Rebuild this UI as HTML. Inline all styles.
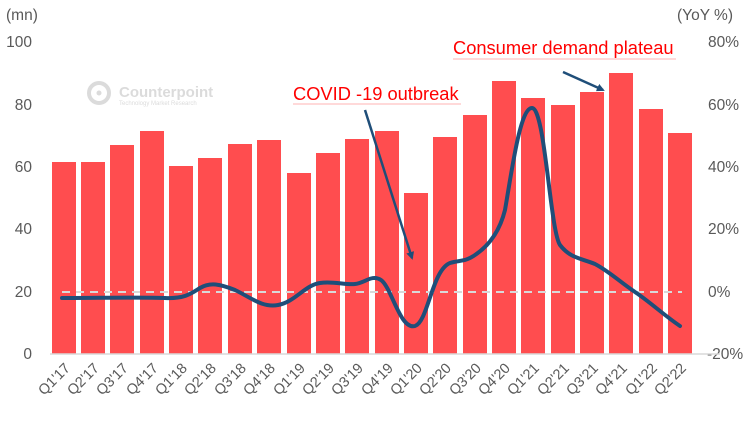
<!DOCTYPE html>
<html><head><meta charset="utf-8"><style>body{margin:0;background:#fff}svg{display:block}</style></head><body>
<svg width="750" height="421" viewBox="0 0 750 421" font-family="Liberation Sans, Arial, sans-serif">
<defs><marker id="ah" markerWidth="8" markerHeight="8" refX="6" refY="4" orient="auto" markerUnits="userSpaceOnUse" viewBox="0 0 8 8"><path d="M0,0 L8,4 L0,8 z" fill="#1f4e79"/></marker></defs>
<g fill="#595959" font-size="15.5">
<text x="6" y="20">(mn)</text>
<text x="677" y="20">(YoY %)</text>
<g text-anchor="end">
<text x="32" y="47">100</text><text x="32" y="110">80</text><text x="32" y="172">60</text><text x="32" y="234">40</text><text x="32" y="297">20</text><text x="32" y="359">0</text>
</g>
<text x="708" y="47">80%</text><text x="708" y="110">60%</text><text x="708" y="172">40%</text><text x="708" y="234">20%</text><text x="708" y="297">0%</text><text x="707" y="359">-20%</text>
</g>
<g opacity="0.35">
<circle cx="99" cy="93" r="10" fill="none" stroke="#999" stroke-width="4"/>
<circle cx="99" cy="93" r="2.5" fill="#999"/>
<text x="119" y="97" font-size="15" font-weight="bold" fill="#999">Counterpoint</text>
<text x="119" y="105" font-size="6" fill="#999">Technology Market Research</text>
</g>
<g fill="#ff4d4f">
<rect x="52" y="162" width="24" height="192"/>
<rect x="81" y="162" width="24" height="192"/>
<rect x="110" y="145" width="24" height="209"/>
<rect x="140" y="131" width="24" height="223"/>
<rect x="169" y="166" width="24" height="188"/>
<rect x="198" y="158" width="24" height="196"/>
<rect x="228" y="144" width="24" height="210"/>
<rect x="257" y="140" width="24" height="214"/>
<rect x="287" y="173" width="24" height="181"/>
<rect x="316" y="153" width="24" height="201"/>
<rect x="345" y="139" width="24" height="215"/>
<rect x="375" y="131" width="24" height="223"/>
<rect x="404" y="193" width="24" height="161"/>
<rect x="433" y="137" width="24" height="217"/>
<rect x="463" y="115" width="24" height="239"/>
<rect x="492" y="81" width="24" height="273"/>
<rect x="521" y="98" width="24" height="256"/>
<rect x="551" y="105" width="24" height="249"/>
<rect x="580" y="92" width="24" height="262"/>
<rect x="609" y="73" width="24" height="281"/>
<rect x="639" y="109" width="24" height="245"/>
<rect x="668" y="133" width="24" height="221"/>
</g>
<line x1="50" y1="354" x2="720" y2="354" stroke="#d9d9d9" stroke-width="1.5"/>
<line x1="62" y1="292" x2="682" y2="292" stroke="#d9d9d9" stroke-width="2" stroke-dasharray="8,6"/>
<path d="M62,298 C100,298 140,297 165,298 C185,299 192,293 200,288 C210,282 220,284 235,290 C250,297 262,308 278,305 C295,302 305,285 320,283 C333,281 345,285 355,284 C365,283 372,274 381,280 C392,288 400,330 415,326 C428,322 432,270 450,263 C460,260 465,262 475,255 C490,245 500,230 505,210 C512,170 520,108 532,108 C545,108 550,230 560,245 C570,258 580,258 595,264 C610,272 620,282 635,292 C650,302 665,316 680,326" fill="none" stroke="#1f4e79" stroke-width="4" stroke-linecap="round"/>
<g font-size="18.3" fill="#ff0000">
<text x="293" y="100">COVID -19 outbreak</text>
<text x="453" y="54">Consumer demand plateau</text>
</g>
<line x1="293" y1="104" x2="461" y2="104" stroke="#ffb3b3" stroke-width="1"/>
<line x1="453" y1="59" x2="676" y2="59" stroke="#ffb3b3" stroke-width="1"/>
<line x1="365" y1="110" x2="412" y2="258" stroke="#1f4e79" stroke-width="2.5" marker-end="url(#ah)"/>
<line x1="563" y1="72" x2="603" y2="90" stroke="#1f4e79" stroke-width="2.5" marker-end="url(#ah)"/>
<g fill="#595959" font-size="14.5" text-anchor="end">
<text transform="translate(71,369) rotate(-45)">Q1'17</text>
<text transform="translate(100,369) rotate(-45)">Q2'17</text>
<text transform="translate(129,369) rotate(-45)">Q3'17</text>
<text transform="translate(159,369) rotate(-45)">Q4'17</text>
<text transform="translate(188,369) rotate(-45)">Q1'18</text>
<text transform="translate(217,369) rotate(-45)">Q2'18</text>
<text transform="translate(247,369) rotate(-45)">Q3'18</text>
<text transform="translate(276,369) rotate(-45)">Q4'18</text>
<text transform="translate(306,369) rotate(-45)">Q1'19</text>
<text transform="translate(335,369) rotate(-45)">Q2'19</text>
<text transform="translate(364,369) rotate(-45)">Q3'19</text>
<text transform="translate(394,369) rotate(-45)">Q4'19</text>
<text transform="translate(423,369) rotate(-45)">Q1'20</text>
<text transform="translate(452,369) rotate(-45)">Q2'20</text>
<text transform="translate(482,369) rotate(-45)">Q3'20</text>
<text transform="translate(511,369) rotate(-45)">Q4'20</text>
<text transform="translate(540,369) rotate(-45)">Q1'21</text>
<text transform="translate(570,369) rotate(-45)">Q2'21</text>
<text transform="translate(599,369) rotate(-45)">Q3'21</text>
<text transform="translate(628,369) rotate(-45)">Q4'21</text>
<text transform="translate(658,369) rotate(-45)">Q1'22</text>
<text transform="translate(687,369) rotate(-45)">Q2'22</text>
</g>
</svg>
</body></html>
